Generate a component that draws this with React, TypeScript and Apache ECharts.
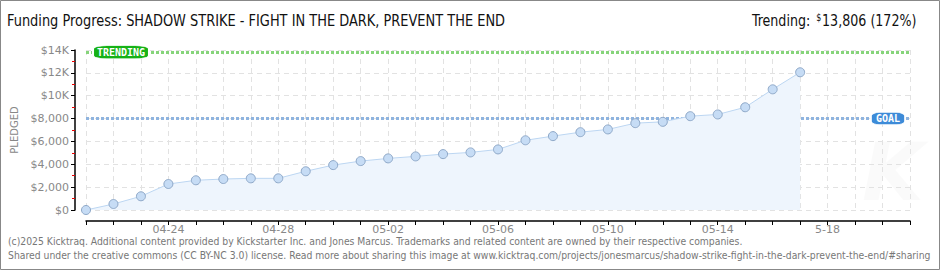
import React, { useEffect, useRef } from "react";
import * as echarts from "echarts";

const categories = [
  "04-21", "04-22", "04-23", "04-24", "04-25", "04-26", "04-27", "04-28", "04-29", "04-30",
  "05-01", "05-02", "05-03", "05-04", "05-05", "05-06", "05-07", "05-08", "05-09", "05-10",
  "05-11", "05-12", "05-13", "05-14", "05-15", "05-16", "05-17", "05-18", "05-19", "05-20", "05-21",
];
const tickLabels: Record<string, string> = {
  "04-24": "04-24", "04-28": "04-28", "05-02": "05-02", "05-06": "05-06",
  "05-10": "05-10", "05-14": "05-14", "05-18": "5-18",
};
const pledged = [
  0, 525, 1200, 2275, 2600, 2710, 2770, 2770, 3390, 3930,
  4280, 4515, 4690, 4890, 5040, 5300, 6100, 6465, 6810, 7050,
  7600, 7715, 8210, 8360, 8990, 10560, 12050,
];
const goal = 8000;
const trending = 13806;
const titleText = "Funding Progress: SHADOW STRIKE - FIGHT IN THE DARK, PREVENT THE END";
const footer1 = "(c)2025 Kicktraq. Additional content provided by Kickstarter Inc. and Jones Marcus. Trademarks and related content are owned by their respective companies.";
const footer2 = "Shared under the creative commons (CC BY-NC 3.0) license. Read more about sharing this image at www.kicktraq.com/projects/jonesmarcus/shadow-strike-fight-in-the-dark-prevent-the-end/#sharing";

const condensed = '"DejaVu Sans Condensed", sans-serif';
const pixel = '"DejaVu Sans", sans-serif';

export default function App() {
  const ref = useRef<HTMLDivElement>(null);
  useEffect(() => {
    if (!ref.current) return;
    const chart = echarts.init(ref.current, null, { renderer: "svg" });
    const fmtY = (v: number) =>
      v >= 10000 ? `$${v / 1000}K` : `$${v.toLocaleString("en-US")}`;
    chart.setOption({
      animation: false,
      backgroundColor: "#fff",
      grid: { left: 86, right: 30, top: 50, bottom: 60, containLabel: false },
      xAxis: {
        type: "category",
        data: categories,
        boundaryGap: false,
        offset: 11,
        axisLine: { show: true, onZero: false, lineStyle: { color: "#000", width: 1.5 } },
        axisTick: { show: true, interval: 0, length: 4, inside: false, lineStyle: { color: "#000" } },
        axisLabel: {
          interval: (i: number, v: string) => !!tickLabels[v],
          formatter: (v: string) => tickLabels[v] || "",
          color: "#888",
          fontSize: 11,
          fontFamily: pixel,
          margin: 3,
        },
        splitLine: { show: true, interval: 0, lineStyle: { color: "#e2e2e2", type: [5, 4] } },
      },
      yAxis: {
        type: "value",
        min: 0,
        max: 14000,
        interval: 2000,
        offset: 11,
        name: "PLEDGED",
        nameLocation: "middle",
        nameGap: 50,
        nameTextStyle: { color: "#888", fontSize: 10, fontFamily: pixel },
        axisLine: { show: true, onZero: false, lineStyle: { color: "#000", width: 1.5 } },
        axisTick: { show: true, length: 4, lineStyle: { color: "#000" } },
        minorTick: { show: true, splitNumber: 2, length: 3, lineStyle: { color: "#e00" } },
        axisLabel: { formatter: fmtY, color: "#888", fontSize: 11, fontFamily: pixel, margin: 6 },
        splitLine: { show: true, lineStyle: { color: "#e2e2e2", type: [5, 4] } },
      },
      series: [
        {
          type: "line",
          data: pledged,
          symbol: "circle",
          symbolSize: 9,
          itemStyle: { color: "#c6dcf5", borderColor: "#8ea8c8", borderWidth: 1 },
          lineStyle: { color: "#bcd6f2", width: 1 },
          areaStyle: { color: "#eef5fd", opacity: 1 },
          z: 3,
          markLine: {
            silent: true,
            symbol: "none",
            label: { show: false },
            data: [
              { yAxis: goal, lineStyle: { color: "#8fb4df", width: 3, type: [3, 2] } },
              { yAxis: trending, lineStyle: { color: "#86d47a", width: 3, type: [3, 2] } },
            ],
            z: 2,
          },
          markPoint: {
            silent: true,
            data: [
              {
                coord: [0, trending],
                symbol: "roundRect",
                symbolSize: [56, 13],
                symbolOffset: [35, 0],
                itemStyle: { color: "#16b216", borderColor: "#fff", borderWidth: 1 },
                label: {
                  show: true,
                  formatter: "TRENDING",
                  color: "#fff",
                  fontSize: 10,
                  fontFamily: '"DejaVu Sans Mono", monospace',
                  fontWeight: "bold",
                },
              },
              {
                coord: [categories.length - 1, goal],
                symbol: "roundRect",
                symbolSize: [34, 12],
                symbolOffset: [-22, 0],
                itemStyle: { color: "#3d8bd8", borderColor: "#fff", borderWidth: 1 },
                label: {
                  show: true,
                  formatter: "GOAL",
                  color: "#fff",
                  fontSize: 10,
                  fontFamily: '"DejaVu Sans Mono", monospace',
                  fontWeight: "bold",
                },
              },
            ],
          },
        },
      ],
      graphic: [
        {
          type: "text",
          left: 862,
          top: 132,
          z: 0,
          style: {
            text: "K",
            fontSize: 80,
            fontWeight: "bold",
            fontStyle: "italic",
            fontFamily: '"DejaVu Sans", sans-serif',
            fill: "rgba(0,0,0,0.02)",
          },
        },
        {
          type: "text",
          x: 7,
          y: 13,
          scaleX: 0.9,
          style: { text: titleText, fontSize: 16, fontFamily: condensed, fill: "#111" },
        },
        {
          type: "text",
          x: 752,
          y: 12,
          scaleX: 0.88,
          style: {
            text: "{a|Trending:}  {s|$}{a|13,806 (172%)}",
            fill: "#111",
            rich: {
              a: { fontSize: 16, fontFamily: condensed, fill: "#111" },
              s: { fontSize: 10, fontFamily: condensed, fill: "#111", verticalAlign: "top", padding: [0, 1, 8, 0] },
            },
          },
        },
        {
          type: "text",
          left: 8,
          top: 236,
          style: { text: footer1, fontSize: 10.3, fontFamily: condensed, fill: "#777" },
        },
        {
          type: "text",
          left: 8,
          top: 250,
          style: { text: footer2, fontSize: 10.3, fontFamily: condensed, fill: "#777" },
        },
        {
          type: "rect",
          shape: { x: 0.5, y: 0.5, width: 939, height: 269 },
          style: { fill: "none", stroke: "#888", lineWidth: 1 },
          silent: true,
        },
      ],
    });
    return () => chart.dispose();
  }, []);
  return (
    <div
      ref={ref}
      style={{ position: "fixed", left: 0, top: 0, width: 940, height: 270 }}
    />
  );
}
